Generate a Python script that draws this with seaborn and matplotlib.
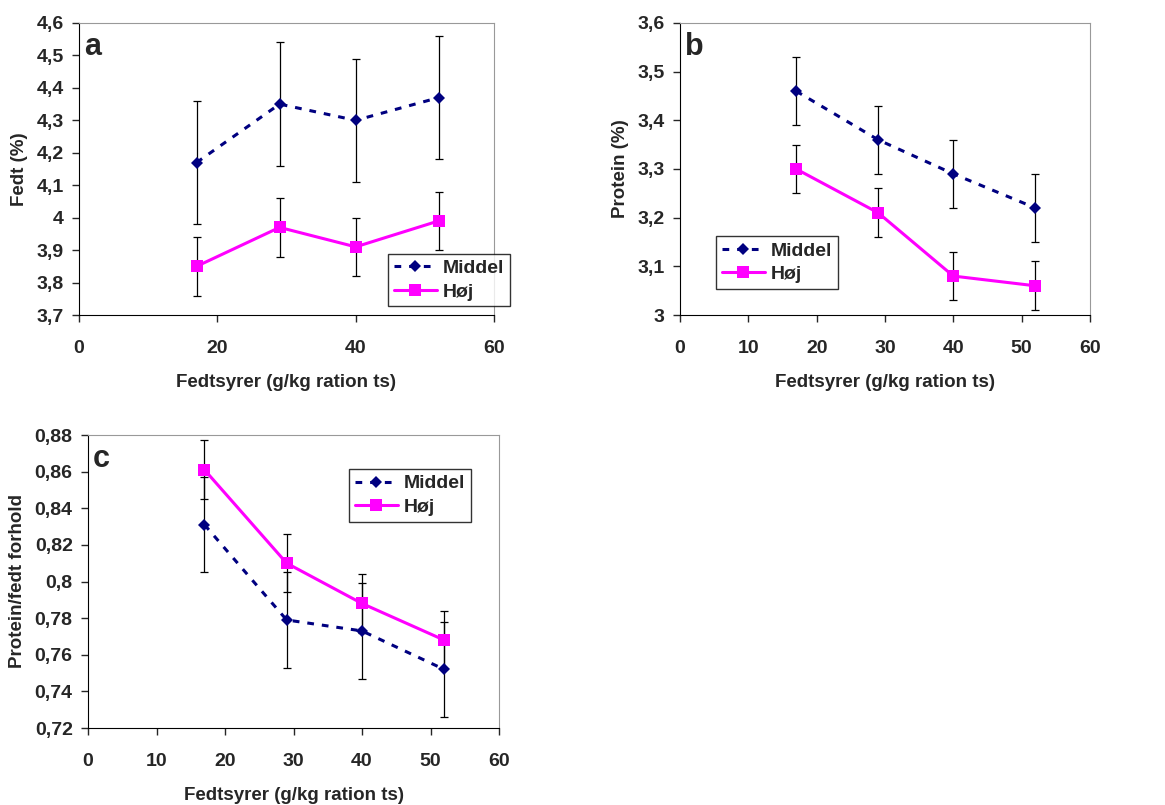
import numpy as np
import pandas as pd
import seaborn as sns
import matplotlib.pyplot as plt
from matplotlib.ticker import FuncFormatter, MultipleLocator

x = [17, 29, 40, 52]
grupper = ['Middel', 'Høj']

fedt_middel = [4.17, 4.35, 4.30, 4.37]
fedt_hoj = [3.85, 3.97, 3.91, 3.99]
fedt_err_middel = [0.19, 0.19, 0.19, 0.19]
fedt_err_hoj = [0.09, 0.09, 0.09, 0.09]

protein_middel = [3.46, 3.36, 3.29, 3.22]
protein_hoj = [3.30, 3.21, 3.08, 3.06]
protein_err_middel = [0.07, 0.07, 0.07, 0.07]
protein_err_hoj = [0.05, 0.05, 0.05, 0.05]

forhold_middel = [0.831, 0.779, 0.773, 0.752]
forhold_hoj = [0.861, 0.810, 0.788, 0.768]
forhold_err_middel = [0.026, 0.026, 0.026, 0.026]
forhold_err_hoj = [0.016, 0.016, 0.016, 0.016]

sns.set_style('ticks')
plt.rcParams['font.family'] = ['Liberation Sans', 'DejaVu Sans']
plt.rcParams['font.weight'] = 'bold'

farver = {'Middel': '#000080', 'Høj': '#FF00FF'}
W, H = 1165, 805
fig = plt.figure(figsize=(W / 100, H / 100), dpi=100)


def px_axes(l, t, r, b):
    return fig.add_axes([l / W, 1 - b / H, (r - l) / W, (b - t) / H])


def komma(v, pos):
    return f'{v:g}'.replace('.', ',')


def panel(ax, middel, hoj, err_m, err_h, ylim, ystep, xstep, ylabel, bogstav, leg_pos):
    df = pd.DataFrame({
        'x': x * 2,
        'y': middel + hoj,
        'gruppe': ['Middel'] * 4 + ['Høj'] * 4,
    })
    sns.lineplot(data=df, x='x', y='y', hue='gruppe', style='gruppe',
                 hue_order=grupper, style_order=grupper, palette=farver,
                 markers={'Middel': 'D', 'Høj': 's'},
                 dashes={'Middel': (2.2, 2.6), 'Høj': ''},
                 markersize=8, markeredgewidth=0, linewidth=2.2, ax=ax, zorder=3)
    ax.lines[0].set_markersize(6.5)
    for vals, err in [(middel, err_m), (hoj, err_h)]:
        ax.errorbar(x, vals, yerr=err, fmt='none', ecolor='black',
                    elinewidth=0.9, capsize=3, capthick=0.9, zorder=2)
    ax.set_xlim(0, 60)
    ax.set_ylim(*ylim)
    ax.xaxis.set_major_locator(MultipleLocator(xstep))
    ax.yaxis.set_major_locator(MultipleLocator(ystep))
    ax.yaxis.set_major_formatter(FuncFormatter(komma))
    ax.tick_params(direction='out', length=5, width=1, labelsize=14)
    ax.tick_params(axis='x', pad=13)
    ax.tick_params(axis='y', pad=6)
    for s in ['top', 'right']:
        ax.spines[s].set_color('#999999')
    for s in ['left', 'bottom']:
        ax.spines[s].set_color('black')
    ax.set_xlabel('Fedtsyrer (g/kg ration ts)', fontsize=13.5, fontweight='bold', labelpad=12)
    ax.set_ylabel(ylabel, fontsize=13.5, fontweight='bold', labelpad=6)
    ax.text(0.012, 0.89, bogstav, transform=ax.transAxes, fontsize=22,
            fontweight='bold', va='baseline')
    leg = ax.legend(loc='upper left', bbox_to_anchor=leg_pos, borderaxespad=0,
                    fontsize=14, frameon=True, fancybox=False, handlelength=2.2,
                    handletextpad=0.3, borderpad=0.3, labelspacing=0.3)
    leg.legend_handles[0].set_markersize(6.5)
    leg.get_frame().set_edgecolor('black')
    leg.get_frame().set_linewidth(1)


ax_a = px_axes(79, 23, 494, 315)
panel(ax_a, fedt_middel, fedt_hoj, fedt_err_middel, fedt_err_hoj,
      (3.7, 4.6), 0.1, 20, 'Fedt (%)', 'a', (0.745, 0.21))

ax_b = px_axes(680, 23, 1090, 315)
panel(ax_b, protein_middel, protein_hoj, protein_err_middel, protein_err_hoj,
      (3.0, 3.6), 0.1, 10, 'Protein (%)', 'b', (0.088, 0.27))

ax_c = px_axes(88, 435, 499, 728)
panel(ax_c, forhold_middel, forhold_hoj, forhold_err_middel, forhold_err_hoj,
      (0.72, 0.88), 0.02, 10, 'Protein/fedt forhold', 'c', (0.635, 0.884))

fig.savefig('out.png', dpi=100)
